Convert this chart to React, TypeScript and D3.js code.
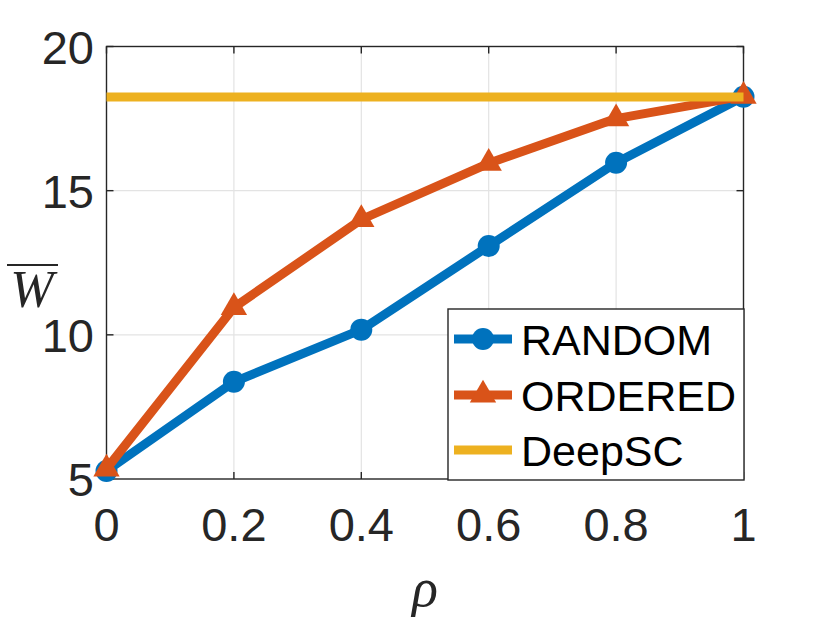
import * as d3 from "d3"

// rho values on the x axis
const rhoValues = [0, 0.2, 0.4, 0.6, 0.8, 1]
const randomValues = [5.28, 8.37, 10.18, 13.08, 15.97, 18.26]
const orderedValues = [5.35, 10.95, 14.0, 15.95, 17.5, 18.28]
const deepscValue = 18.25

const xTicks = [0, 0.2, 0.4, 0.6, 0.8, 1]
const xTickLabels = ["0", "0.2", "0.4", "0.6", "0.8", "1"]
const yTicks = [5, 10, 15, 20]
const yTickLabels = ["5", "10", "15", "20"]

const seriesNames = ["RANDOM", "ORDERED", "DeepSC"]
const colors = ["#0072BD", "#D95319", "#EDB120"]

export default function App() {
  const width = 822
  const height = 617
  const margin = { left: 106.5, right: 78.5, top: 46.5, bottom: 138 }

  const x = d3
    .scaleLinear()
    .domain([0, 1])
    .range([margin.left, width - margin.right])
  const y = d3
    .scaleLinear()
    .domain([5, 20])
    .range([height - margin.bottom, margin.top])

  const line = d3
    .line<number>()
    .x((d, i) => x(rhoValues[i]))
    .y((d) => y(d))

  const triangle = d3.symbol().type(d3.symbolTriangle).size(300)()

  const axisColor = "#262626"
  const gridColor = "#e3e3e3"
  const tickLen = 7
  const sansFont = "'Liberation Sans', Arial, Helvetica, sans-serif"
  const serifFont = "'Liberation Serif', 'Times New Roman', serif"

  const [x0, x1] = x.range()
  const [y0, y1] = y.range()

  // legend layout
  const legend = { x: 448, y: 309, w: 296, h: 171 }
  const legendRows = [339, 395, 450]

  return (
    <svg
      width={width}
      height={height}
      style={{ position: "absolute", left: 0, top: 0, background: "#fff" }}
    >
      <rect width={width} height={height} fill="#fff" />

      {/* grid */}
      <g stroke={gridColor} strokeWidth={1.2}>
        {xTicks.slice(1, -1).map((t) => (
          <line key={"gx" + t} x1={x(t)} x2={x(t)} y1={y0} y2={y1} />
        ))}
        {yTicks.slice(1, -1).map((t) => (
          <line key={"gy" + t} x1={x0} x2={x1} y1={y(t)} y2={y(t)} />
        ))}
      </g>

      {/* axes box and ticks */}
      <g stroke={axisColor} strokeWidth={1.4} fill="none">
        <rect x={x0} y={y1} width={x1 - x0} height={y0 - y1} />
        {xTicks.map((t) => (
          <g key={"tx" + t}>
            <line x1={x(t)} x2={x(t)} y1={y0} y2={y0 - tickLen} />
            <line x1={x(t)} x2={x(t)} y1={y1} y2={y1 + tickLen} />
          </g>
        ))}
        {yTicks.map((t) => (
          <g key={"ty" + t}>
            <line x1={x0} x2={x0 + tickLen} y1={y(t)} y2={y(t)} />
            <line x1={x1} x2={x1 - tickLen} y1={y(t)} y2={y(t)} />
          </g>
        ))}
      </g>

      {/* tick labels */}
      <g fontFamily={sansFont} fontSize={47} fill={axisColor}>
        {xTicks.map((t, i) => (
          <text key={"lx" + t} x={x(t)} y={541} textAnchor="middle">
            {xTickLabels[i]}
          </text>
        ))}
        {yTicks.map((t, i) => (
          <text key={"ly" + t} x={94} y={y(t) + 17} textAnchor="end">
            {yTickLabels[i]}
          </text>
        ))}
      </g>

      {/* axis labels */}
      <text
        x={32}
        y={307}
        textAnchor="middle"
        fontFamily={serifFont}
        fontStyle="italic"
        fontSize={52}
        fill={axisColor}
      >
        W
      </text>
      <line x1={7} x2={58} y1={265} y2={265} stroke={axisColor} strokeWidth={2.2} />
      <text
        x={(x0 + x1) / 2}
        y={606}
        textAnchor="middle"
        fontFamily={serifFont}
        fontStyle="italic"
        fontSize={54}
        fill={axisColor}
      >
        ρ
      </text>

      {/* RANDOM */}
      <path d={line(randomValues) ?? ""} fill="none" stroke={colors[0]} strokeWidth={9} strokeLinejoin="round" />
      {randomValues.map((v, i) => (
        <circle key={"r" + i} cx={x(rhoValues[i])} cy={y(v)} r={11} fill={colors[0]} />
      ))}

      {/* ORDERED */}
      <path d={line(orderedValues) ?? ""} fill="none" stroke={colors[1]} strokeWidth={9} strokeLinejoin="round" />
      {orderedValues.map((v, i) => (
        <path
          key={"o" + i}
          d={triangle ?? ""}
          transform={`translate(${x(rhoValues[i])},${y(v)})`}
          fill={colors[1]}
        />
      ))}

      {/* DeepSC */}
      <line
        x1={x0}
        x2={x1}
        y1={y(deepscValue)}
        y2={y(deepscValue)}
        stroke={colors[2]}
        strokeWidth={9}
      />

      {/* legend */}
      <rect
        x={legend.x}
        y={legend.y}
        width={legend.w}
        height={legend.h}
        fill="#fff"
        stroke={axisColor}
        strokeWidth={1.4}
      />
      {seriesNames.map((name, i) => (
        <g key={name}>
          <line
            x1={454}
            x2={512}
            y1={legendRows[i]}
            y2={legendRows[i]}
            stroke={colors[i]}
            strokeWidth={9}
          />
          {i === 0 && <circle cx={483} cy={legendRows[i]} r={11} fill={colors[i]} />}
          {i === 1 && (
            <path
              d={triangle ?? ""}
              transform={`translate(483,${legendRows[i]})`}
              fill={colors[i]}
            />
          )}
          <text
            x={521}
            y={legendRows[i] + 16}
            fontFamily={sansFont}
            fontSize={43}
            fill="#000"
          >
            {name}
          </text>
        </g>
      ))}
    </svg>
  )
}
